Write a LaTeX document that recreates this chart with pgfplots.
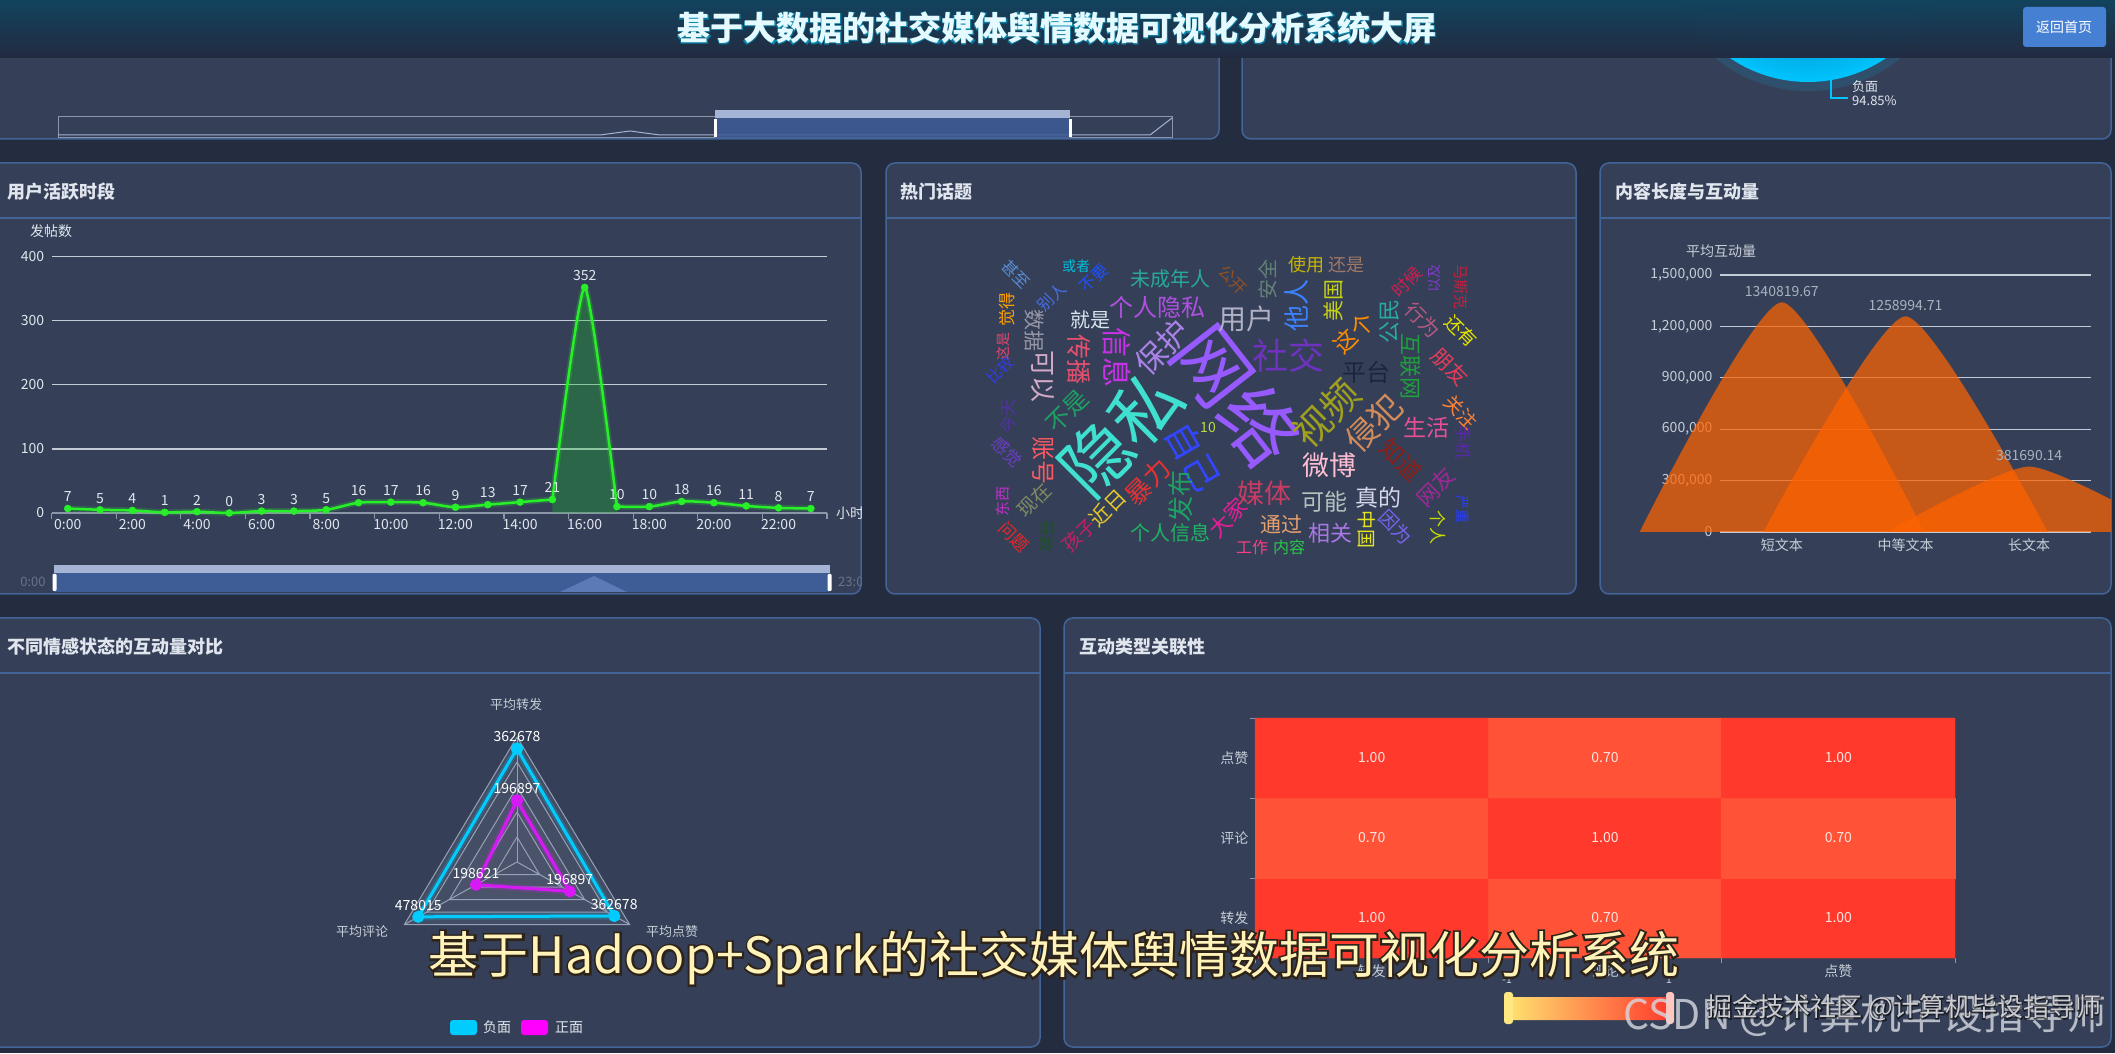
\documentclass[border=0pt]{standalone}
\usepackage{fontspec}
\setmainfont{Noto Sans CJK SC}
\newfontfamily\fbfont{Noto Sans CJK SC}[FakeBold=8]
\usepackage{pgfplots}
\usepackage{pgfplotstable}
\pgfplotsset{compat=1.18}
\pgfplotsset{/pgf/number format/assume math mode=true}

\definecolor{pagebg}{RGB}{36,44,63}
\definecolor{panelbg}{RGB}{53,64,88}
\definecolor{panelbd}{RGB}{66,100,152}
\definecolor{txt}{RGB}{225,230,238}
\definecolor{lbl}{RGB}{200,206,216}
\definecolor{gridc}{RGB}{196,202,214}
\definecolor{axisc}{RGB}{140,150,168}
\definecolor{lgreen}{RGB}{40,240,40}
\definecolor{agreen}{RGB}{20,190,40}
\definecolor{humpc}{RGB}{255,98,0}
\definecolor{humplbl}{RGB}{170,178,192}
\definecolor{cyanc}{RGB}{0,204,255}
\definecolor{magc}{RGB}{215,25,245}
\definecolor{maglg}{RGB}{255,0,255}
\definecolor{radgrid}{RGB}{150,160,182}
\definecolor{cellt}{RGB}{245,230,225}
\definecolor{capc}{RGB}{255,243,185}
\definecolor{capout}{RGB}{45,35,25}
\definecolor{hdtop}{RGB}{20,74,104}
\definecolor{hdbot}{RGB}{38,47,70}
\definecolor{piein}{RGB}{0,80,120}
\definecolor{pieout}{RGB}{0,196,255}
\definecolor{sliderlt}{RGB}{165,180,212}
\definecolor{sliderbl}{RGB}{62,92,150}
\definecolor{sliderbump}{RGB}{92,122,182}
\definecolor{btn}{RGB}{70,128,210}
\definecolor{dimtxt}{RGB}{105,115,135}
\definecolor{titlec}{RGB}{228,250,255}
\definecolor{vmyel}{RGB}{255,226,112}
\definecolor{vmred}{RGB}{255,58,44}
\definecolor{vmhl}{RGB}{255,232,130}
\definecolor{vmhr}{RGB}{255,200,190}
\definecolor{wmc}{RGB}{215,218,225}
\definecolor{wm2}{RGB}{235,235,240}

\newcommand\fs[1]{\fontsize{#1pt}{#1pt}\selectfont}
\newcommand\panel[4]{\filldraw[fill=panelbg,draw=panelbd,line width=1.5pt,rounded corners=9pt] (#1pt,#2pt) rectangle (#3pt,#4pt);}
\newcommand\wcw[6]{\definecolor{wc}{RGB}{#5}\node[rotate=#4,text=wc,font=\fs{#3},inner sep=0pt] at (#1pt,#2pt) {#6};}

\pgfplotstableread{
h v
0 7
1 5
2 4
3 1
4 2
5 0
6 3
7 3
8 5
9 16
10 17
11 16
12 9
13 13
14 17
15 21
16 352
17 10
18 10
19 18
20 16
21 11
22 8
23 7
}\tblhour

\pgfplotstableread{
x y l
0 1340819.67 1340819.67
1 1258994.71 1258994.71
2 381690.14 381690.14
}\tbllen

\pgfplotstableread{
a v m
90 362678 400000
330 362678 420000
210 478015 545000
90 362678 400000
}\tblneg

\pgfplotstableread{
a v m
90 196897 400000
330 196897 420000
210 198621 545000
90 196897 400000
}\tblpos

\pgfplotstableread{
x y v t
0 0 1.00 1.00
1 0 0.70 0.70
2 0 1.00 1.00
0 1 0.70 0.70
1 1 1.00 1.00
2 1 0.70 0.70
0 2 1.00 1.00
1 2 0.70 0.70
2 2 1.00 1.00
}\tblheat

\begin{document}
\begin{tikzpicture}
\clip (0pt,0pt) rectangle (2115pt,1053pt);
\fill[pagebg] (0pt,0pt) rectangle (2115pt,1053pt);

% ---------- top panels ----------
\panel{-10}{914}{1219}{1080}
\panel{1242}{914}{2111}{1080}
% top-left slider
\draw[axisc,line width=1pt] (58pt,915pt) rectangle (1172pt,936pt);
\draw[sliderlt,line width=1pt] (58pt,918pt) -- (600pt,918pt) -- (630pt,922pt) -- (660pt,918pt) -- (1150pt,918pt) -- (1172pt,935pt);
\fill[sliderbl,opacity=0.85] (715pt,915pt) rectangle (1070pt,935pt);
\fill[sliderlt] (715pt,935pt) rectangle (1070pt,943pt);
\fill[white] (713.5pt,916pt) rectangle (716.5pt,934pt);
\fill[white] (1068.5pt,916pt) rectangle (1071.5pt,934pt);
% pie glimpse
\fill[pieout,opacity=0.12] (1808pt,1110pt) circle (148pt);
\shade[inner color=piein,outer color=pieout] (1808pt,1110pt) circle (139pt);
\draw[pieout,line width=1.2pt] (1831pt,973pt) -- (1831pt,955pt) -- (1848pt,955pt);
\node[anchor=west,text=txt,font=\fs{13},inner sep=0pt] at (1852pt,966pt) {负面};
\node[anchor=west,text=txt,font=\fs{13},inner sep=0pt] at (1852pt,952pt) {94.85\%};

% ---------- header ----------
\fill[top color=hdtop,bottom color=hdbot,opacity=0.9] (0pt,995pt) rectangle (2115pt,1053pt);
\node[text=cyanc,opacity=0.45,font=\fbfont\fs{33}] at (1057pt,1025pt) {基于大数据的社交媒体舆情数据可视化分析系统大屏};
\node[text=titlec,font=\fs{33}\bfseries] at (1057pt,1025pt) {基于大数据的社交媒体舆情数据可视化分析系统大屏};
\fill[btn,rounded corners=3pt] (2023pt,1006pt) rectangle (2106pt,1046pt);
\node[text=white,font=\fs{14}] at (2064pt,1026pt) {返回首页};

% ---------- panels ----------
\panel{-10}{459}{861}{890}
\panel{886}{459}{1576}{890}
\panel{1600}{459}{2111}{890}
\panel{-10}{6}{1040}{435}
\panel{1064}{6}{2111}{435}
\draw[panelbd,line width=1.5pt] (-10pt,835pt) -- (861pt,835pt);
\draw[panelbd,line width=1.5pt] (886pt,835pt) -- (1576pt,835pt);
\draw[panelbd,line width=1.5pt] (1600pt,835pt) -- (2111pt,835pt);
\draw[panelbd,line width=1.5pt] (-10pt,380pt) -- (1040pt,380pt);
\draw[panelbd,line width=1.5pt] (1064pt,380pt) -- (2111pt,380pt);
\node[anchor=west,text=txt,font=\fs{18}\bfseries,inner sep=0pt] at (7pt,861pt) {用户活跃时段};
\node[anchor=west,text=txt,font=\fs{18}\bfseries,inner sep=0pt] at (900pt,861pt) {热门话题};
\node[anchor=west,text=txt,font=\fs{18}\bfseries,inner sep=0pt] at (1615pt,861pt) {内容长度与互动量};
\node[anchor=west,text=txt,font=\fs{18}\bfseries,inner sep=0pt] at (7pt,406pt) {不同情感状态的互动量对比};
\node[anchor=west,text=txt,font=\fs{18}\bfseries,inner sep=0pt] at (1079pt,406pt) {互动类型关联性};

% ---------- A: line chart ----------
\begin{axis}[
  at={(51.6pt,540pt)}, anchor=south west,
  width=775.4pt, height=256.3pt, scale only axis,
  xmin=-0.5, xmax=23.5, ymin=0, ymax=400,
  axis lines*=left,
  x axis line style={draw=axisc,line width=1.2pt},
  y axis line style={draw=none},
  xtick={0,2,...,22},
  xticklabels={0:00,2:00,4:00,6:00,8:00,10:00,12:00,14:00,16:00,18:00,20:00,22:00},
  minor xtick={-0.5,1.5,...,23.5},
  ytick={0,100,200,300,400},
  major tick length=0pt, minor tick length=6pt, tick align=outside,
  minor tick style={draw=axisc,line width=1.2pt},
  ymajorgrids, grid style={draw=gridc,line width=1.3pt},
  tick label style={font=\fs{14},text=txt},
  yticklabel style={xshift=-4pt},
  xticklabel style={yshift=-3pt},
  clip=false,
]
% area under the peak
\addplot[draw=none,fill=agreen,fill opacity=0.3,smooth,tension=0.35,restrict x to domain=15:17] table[x=h,y=v]{\tblhour} \closedcycle;
% glow
\addplot[lgreen,line width=6pt,opacity=0.2,smooth,restrict x to domain=0:15] table[x=h,y=v]{\tblhour};
\addplot[lgreen,line width=6pt,opacity=0.2,smooth,tension=0.35,restrict x to domain=15:17] table[x=h,y=v]{\tblhour};
\addplot[lgreen,line width=6pt,opacity=0.2,smooth,restrict x to domain=17:23] table[x=h,y=v]{\tblhour};
% line
\addplot[lgreen,line width=2.5pt,smooth,restrict x to domain=0:15] table[x=h,y=v]{\tblhour};
\addplot[lgreen,line width=2.5pt,smooth,tension=0.35,restrict x to domain=15:17] table[x=h,y=v]{\tblhour};
\addplot[lgreen,line width=2.5pt,smooth,restrict x to domain=17:23] table[x=h,y=v]{\tblhour};
% marks and labels
\addplot[only marks,mark=*,mark size=3.5pt,
  mark options={fill=lgreen,draw=lgreen,line width=0.5pt},
  nodes near coords,
  every node near coord/.append style={font=\fs{14},text=txt,anchor=south,yshift=3pt}]
  table[x=h,y=v]{\tblhour};
\end{axis}
\node[text=txt,font=\fs{14}] at (51pt,822pt) {发帖数};
% slider A
\fill[sliderlt] (54pt,480pt) rectangle (830pt,488pt);
\fill[sliderbl] (54pt,461pt) rectangle (830pt,480pt);
\fill[sliderbump] (560pt,461pt) -- (594pt,477pt) -- (627pt,461pt) -- cycle;
\fill[white,rounded corners=1pt] (52.5pt,462pt) rectangle (56.5pt,479pt);
\fill[white,rounded corners=1pt] (827.5pt,462pt) rectangle (831.5pt,479pt);
\node[text=dimtxt,font=\fs{13}] at (33pt,471pt) {0:00};
\begin{scope}
\clip (-10pt,459pt) rectangle (861pt,890pt);
\node[anchor=west,text=txt,font=\fs{14},inner sep=0pt] at (836pt,540pt) {小时};
\node[anchor=west,text=dimtxt,font=\fs{13},inner sep=0pt] at (838pt,471pt) {23:00};
\end{scope}

% ---------- B: word cloud ----------
\wcw{1121}{620}{70}{45}{64,224,208}{隐私}
\wcw{1237}{658}{76}{-52}{150,90,255}{网络}
\wcw{1288}{697}{36}{0}{110,50,190}{社交}
\wcw{1246}{734}{28}{0}{176,176,196}{用户}
\wcw{1366}{681}{24}{0}{30,36,60}{平台}
\wcw{1157}{746}{24}{0}{176,80,224}{个人隐私}
\wcw{1170}{774}{20}{0}{40,170,150}{未成年人}
\wcw{1090}{733}{20}{0}{220,230,240}{就是}
\wcw{1162}{706}{31}{45}{170,130,230}{保护}
\wcw{1117}{695}{30}{-90}{200,50,230}{信息}
\wcw{1079}{693}{25}{-90}{230,80,110}{传播}
\wcw{1043}{676}{26}{-90}{210,170,200}{可以}
\wcw{1034}{722}{21}{-90}{150,150,165}{数据}
\wcw{1007}{743}{17}{90}{255,160,0}{觉得}
\wcw{1003}{706}{14}{90}{230,70,110}{这是}
\wcw{1016}{779}{16}{-45}{90,140,210}{甚至}
\wcw{1076}{787}{14}{0}{0,190,220}{或者}
\wcw{1094}{775}{16}{45}{30,80,255}{不要}
\wcw{1052}{756}{16}{45}{70,110,230}{别人}
\wcw{1233}{773}{16}{-45}{150,80,30}{公开}
\wcw{1268}{773}{20}{90}{100,130,120}{安全}
\wcw{1306}{788}{18}{0}{200,180,0}{使用}
\wcw{1346}{788}{18}{0}{160,120,100}{还是}
\wcw{1297}{747}{26}{90}{60,130,255}{他人}
\wcw{1333}{752}{21}{90}{200,210,20}{美国}
\wcw{1354}{720}{23}{45}{255,140,0}{这个}
\wcw{1389}{731}{22}{90}{40,170,160}{公民}
\wcw{1423}{733}{20}{-45}{180,90,130}{行为}
\wcw{1461}{722}{18}{-45}{230,230,0}{还有}
\wcw{1407}{771}{17}{45}{210,30,80}{时候}
\wcw{1434}{774}{14}{90}{130,60,200}{以及}
\wcw{1461}{766}{15}{-90}{200,30,60}{马斯克}
\wcw{1411}{686}{22}{-90}{30,160,60}{互联网}
\wcw{1450}{686}{21}{-45}{230,60,90}{朋友}
\wcw{1000}{683}{15}{45}{50,60,230}{比较}
\wcw{1067}{642}{24}{45}{30,160,100}{不是}
\wcw{1208}{625}{14}{0}{190,220,60}{10}
\wcw{1326}{640}{38}{45}{160,160,30}{视频}
\wcw{1374}{630}{32}{45}{210,140,90}{侵犯}
\wcw{1426}{625}{23}{0}{230,80,150}{生活}
\wcw{1461}{641}{19}{-45}{255,130,50}{关注}
\wcw{1008}{636}{17}{90}{80,50,160}{今天}
\wcw{1007}{601}{17}{-45}{110,60,200}{感觉}
\wcw{1043}{592}{24}{-90}{255,90,100}{账号}
\wcw{1193}{596}{36}{-60}{50,70,255}{自己}
\wcw{1264}{560}{27}{0}{200,60,100}{媒体}
\wcw{1329}{588}{27}{0}{255,190,210}{微博}
\wcw{1324}{551}{23}{0}{180,195,190}{可能}
\wcw{1378}{555}{23}{0}{215,215,235}{真的}
\wcw{1401}{593}{24}{-45}{140,30,20}{知道}
\wcw{1148}{571}{26}{45}{230,50,50}{暴力}
\wcw{1181}{556}{26}{90}{30,160,100}{发布}
\wcw{1108}{545}{21}{45}{230,200,40}{近日}
\wcw{1034}{553}{19}{45}{130,140,100}{现在}
\wcw{1003}{551}{15}{90}{190,50,200}{东西}
\wcw{1014}{516}{17}{-45}{230,40,40}{问题}
\wcw{1047}{516}{16}{-90}{30,80,40}{导致}
\wcw{1079}{518}{19}{45}{200,30,100}{孩子}
\wcw{1228}{535}{22}{45}{230,30,150}{大家}
\wcw{1170}{520}{20}{0}{30,180,100}{个人信息}
\wcw{1281}{529}{21}{0}{230,160,110}{通过}
\wcw{1252}{506}{16}{0}{255,60,130}{工作}
\wcw{1289}{506}{16}{0}{40,200,70}{内容}
\wcw{1330}{520}{22}{0}{170,120,230}{相关}
\wcw{1367}{523}{19}{-90}{230,230,30}{中国}
\wcw{1396}{526}{19}{-45}{120,100,240}{因为}
\wcw{1438}{525}{17}{-90}{200,220,0}{个人}
\wcw{1463}{543}{14}{-90}{40,60,255}{严重}
\wcw{1436}{566}{22}{45}{160,40,150}{网友}
\wcw{1463}{610}{17}{-90}{90,40,170}{手机}

% ---------- C: content length ----------
\begin{scope}
\clip (1600pt,459pt) rectangle (2111pt,890pt);
\begin{axis}[
  at={(1720pt,521pt)}, anchor=south west,
  width=371pt, height=257pt, scale only axis,
  xmin=-0.5, xmax=2.5, ymin=0, ymax=1500000,
  axis lines*=left,
  x axis line style={draw=gridc,line width=1.3pt},
  y axis line style={draw=none},
  xtick={0,1,2}, xticklabels={短文本,中等文本,长文本},
  ytick={0,300000,600000,900000,1200000,1500000},
  scaled y ticks=false,
  yticklabel style={/pgf/number format/fixed,/pgf/number format/1000 sep={,},xshift=-4pt},
  major tick length=0pt,
  ymajorgrids, grid style={draw=gridc,line width=1.3pt},
  tick label style={font=\fs{14},text=lbl},
  xticklabel style={yshift=-3pt},
  clip=false,
]
\addplot[draw=none,fill=humpc,fill opacity=0.72,smooth,tension=0.35] coordinates {(-1.15,0) (0,1340819.67) (1.15,0)} \closedcycle;
\addplot[draw=none,fill=humpc,fill opacity=0.72,smooth,tension=0.35] coordinates {(-0.15,0) (1,1258994.71) (2.15,0)} \closedcycle;
\addplot[draw=none,fill=humpc,fill opacity=0.72,smooth,tension=0.35] coordinates {(0.85,0) (2,381690.14) (3.15,0)} \closedcycle;
\addplot[draw=none,nodes near coords,point meta=explicit symbolic,
  every node near coord/.append style={font=\fs{14},text=humplbl,anchor=south,yshift=2pt}]
  table[x=x,y=y,meta=l]{\tbllen};
\end{axis}
\end{scope}
\node[text=lbl,font=\fs{14}] at (1721pt,802pt) {平均互动量};

% ---------- D: radar ----------
\begin{axis}[
  at={(517pt,191pt)}, anchor=center,
  width=260pt, height=250pt, scale only axis,
  xmin=-1, xmax=1, ymin=-1, ymax=1,
  hide axis, clip=false,
]
\addplot[draw=none,fill=white,fill opacity=0.07,data cs=polar] coordinates {(90,1) (210,1) (330,1) (90,1)};
\addplot[draw=none,fill=white,fill opacity=0.04,data cs=polar] coordinates {(90,0.6) (210,0.6) (330,0.6) (90,0.6)};
\addplot[radgrid,line width=1pt,data cs=polar] coordinates {(90,1) (210,1) (330,1) (90,1)};
\addplot[radgrid,line width=1pt,data cs=polar] coordinates {(90,0.8) (210,0.8) (330,0.8) (90,0.8)};
\addplot[radgrid,line width=1pt,data cs=polar] coordinates {(90,0.6) (210,0.6) (330,0.6) (90,0.6)};
\addplot[radgrid,line width=1pt,data cs=polar] coordinates {(90,0.4) (210,0.4) (330,0.4) (90,0.4)};
\addplot[radgrid,line width=1pt,data cs=polar] coordinates {(90,0.2) (210,0.2) (330,0.2) (90,0.2)};
\addplot[radgrid,line width=1pt,data cs=polar] coordinates {(90,0) (90,1)};
\addplot[radgrid,line width=1pt,data cs=polar] coordinates {(210,0) (210,1)};
\addplot[radgrid,line width=1pt,data cs=polar] coordinates {(330,0) (330,1)};
\addplot[cyanc,line width=7pt,opacity=0.2,data cs=polar] table[x=a,y expr=\thisrow{v}/\thisrow{m}]{\tblneg};
\addplot[cyanc,line width=3pt,mark=*,mark size=4.5pt,mark options={fill=cyanc},data cs=polar] table[x=a,y expr=\thisrow{v}/\thisrow{m}]{\tblneg};
\addplot[magc,line width=7pt,opacity=0.2,data cs=polar] table[x=a,y expr=\thisrow{v}/\thisrow{m}]{\tblpos};
\addplot[magc,line width=3pt,mark=*,mark size=4.5pt,mark options={fill=magc},data cs=polar] table[x=a,y expr=\thisrow{v}/\thisrow{m}]{\tblpos};
\addplot[draw=none,data cs=polar,nodes near coords,point meta=explicit symbolic,
  every node near coord/.append style={font=\fs{14},text=white,anchor=south,yshift=3pt}]
  table[x=a,y expr=\thisrow{v}/\thisrow{m},meta=v,skip coords between index={3}{4}]{\tblneg};
\addplot[draw=none,data cs=polar,nodes near coords,point meta=explicit symbolic,
  every node near coord/.append style={font=\fs{14},text=white,anchor=south,yshift=3pt}]
  table[x=a,y expr=\thisrow{v}/\thisrow{m},meta=v,skip coords between index={3}{4}]{\tblpos};
\end{axis}
\node[text=lbl,font=\fs{13}] at (516pt,348pt) {平均转发};
\node[text=lbl,font=\fs{13}] at (362pt,121pt) {平均评论};
\node[text=lbl,font=\fs{13}] at (672pt,121pt) {平均点赞};
\fill[cyanc,rounded corners=3pt] (450pt,18pt) rectangle (477pt,33pt);
\node[text=txt,font=\fs{14}] at (497pt,25.5pt) {负面};
\fill[maglg,rounded corners=3pt] (521pt,18pt) rectangle (548pt,33pt);
\node[text=txt,font=\fs{14}] at (569pt,25.5pt) {正面};

% ---------- E: heatmap ----------
\begin{axis}[
  at={(1255pt,95pt)}, anchor=south west,
  width=700pt, height=240pt, scale only axis,
  xmin=-0.5, xmax=2.5, ymin=-0.5, ymax=2.5,
  xtick={0,1,2}, xticklabels={转发,评论,点赞},
  ytick={0,1,2}, yticklabels={转发,评论,点赞},
  xtick pos=bottom, ytick pos=left,
  minor xtick={-0.5,0.5,1.5,2.5}, minor ytick={-0.5,0.5,1.5,2.5},
  major tick length=0pt, minor tick length=5pt, tick align=outside,
  minor tick style={draw=axisc,line width=1pt},
  axis line style={draw=none},
  colormap={heat}{rgb255=(255,226,112) rgb255=(255,58,44)},
  point meta min=-1, point meta max=1,
  tick label style={font=\fs{14},text=lbl},
  yticklabel style={xshift=-3pt},
  xticklabel style={yshift=-3pt},
  clip=false,
]
\addplot[matrix plot*,mesh/cols=3,point meta=explicit] table[x=x,y=y,meta=v]{\tblheat};
\addplot[draw=none,nodes near coords,point meta=explicit symbolic,
  every node near coord/.append style={font=\fs{14},text=cellt,anchor=center}]
  table[x=x,y=y,meta=t]{\tblheat};
\end{axis}
\node[text=lbl,font=\fs{11}] at (1507pt,73pt) {-1};
\node[text=lbl,font=\fs{11}] at (1669pt,73pt) {1};
\shade[left color=vmyel,right color=vmred,rounded corners=4pt] (1508pt,33pt) rectangle (1670pt,56pt);
\fill[vmhl,rounded corners=3pt] (1504pt,29pt) rectangle (1513pt,61pt);
\fill[vmhr,rounded corners=3pt] (1666pt,29pt) rectangle (1674pt,61pt);

% ---------- caption & watermark ----------
\node[text=capout,font=\fbfont\fs{50}] at (1054pt,95pt) {基于Hadoop+Spark的社交媒体舆情数据可视化分析系统};
\node[text=capc,font=\fs{50}] at (1054pt,95pt) {基于Hadoop+Spark的社交媒体舆情数据可视化分析系统};
\node[text=wmc,opacity=0.8,font=\fs{41}] at (1865pt,37pt) {CSDN @计算机毕设指导师};
\node[text=black,opacity=0.45,font=\fbfont\fs{26}] at (1904pt,45pt) {掘金技术社区 @计算机毕设指导师};
\node[text=wm2,opacity=0.85,font=\fs{26}] at (1904pt,45pt) {掘金技术社区 @计算机毕设指导师};
\end{tikzpicture}
\end{document}
